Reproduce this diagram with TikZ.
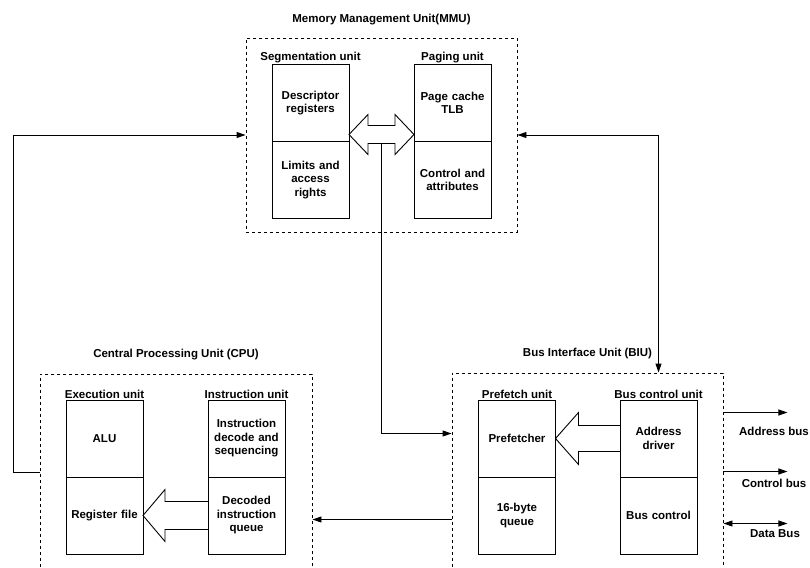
\documentclass[tikz,border=0pt]{standalone}
\usepackage{fontspec}
\setmainfont{Liberation Sans}
\usetikzlibrary{arrows.meta, positioning, calc}

\begin{document}
\begin{tikzpicture}[
    x=1pt, y=-1pt,
    font=\fontsize{11.5}{13.5}\selectfont\bfseries,
    cell/.style={rectangle, draw, line width=0.9pt, minimum width=77pt,
                 minimum height=77pt, text width=70pt, align=center,
                 inner sep=0pt, outer sep=0pt},
    unit/.style={rectangle, draw, dashed, line width=0.9pt},
    title/.style={inner sep=0pt},
    arrow/.style={-{Triangle[length=9pt,width=6pt]}, line width=0.9pt},
    dblarrow/.style={{Triangle[length=9pt,width=6pt]}-{Triangle[length=9pt,width=6pt]}, line width=0.9pt},
    fat/.style={line width=0.9pt, line join=miter}
]
    \path[use as bounding box, clip] (0,0) rectangle (810,567);

    % dashed unit frames
    \node[unit, minimum width=271pt, minimum height=194pt] (mmu) at (381.5,135) {};
    \node[unit, minimum width=272pt, minimum height=196pt] (cpu) at (176,472) {};
    \node[unit, minimum width=271pt, minimum height=197pt] (biu) at (587.5,471.5) {};

    \node[title, above=12pt of mmu] (mmutitle) {Memory Management Unit(MMU)};
    \node[title, above=13pt of cpu] (cputitle) {Central Processing Unit (CPU)};
    \node[title, above=13pt of biu] (biutitle) {Bus Interface Unit (BIU)};

    % MMU
    \node[cell] (desc) at (310.5,103) {Descriptor\\registers};
    \node[cell, below=0pt of desc] (limits) {Limits and\\access\\rights};
    \node[cell] (page) at (452.5,103) {Page cache\\TLB};
    \node[cell, below=0pt of page] (attr) {Control and\\attributes};
    \node[title, above=1pt of desc] (seglbl) {Segmentation unit};
    \node[title, above=1pt of page] (paglbl) {Paging unit};

    % CPU
    \node[cell] (alu) at (104.5,438.5) {ALU};
    \node[cell, below=0pt of alu] (regf) {Register file};
    \node[cell] (idec) at (246.5,438.5) {Instruction\\decode and\\sequencing};
    \node[cell, below=0pt of idec] (decq) {Decoded\\instruction\\queue};
    \node[title, above=1pt of alu] (exelbl) {Execution unit};
    \node[title, above=1pt of idec] (inslbl) {Instruction unit};

    % BIU
    \node[cell] (pref) at (517,438.5) {Prefetcher};
    \node[cell, below=0pt of pref] (queue) {16-byte\\queue};
    \node[cell] (addr) at (658.5,438.5) {Address\\driver};
    \node[cell, below=0pt of addr] (busc) {Bus control};
    \node[title, above=1pt of pref] (prelbl) {Prefetch unit};
    \node[title, above=1pt of addr] (bculbl) {Bus control unit};

    % block arrows
    \coordinate (lt) at ($(desc.south east)+(0,-7)$);
    \coordinate (rt) at ($(page.south west)+(0,-7)$);
    \draw[fat] (lt) -- ++(19,-20) -- ++(0,11) -- ($(rt)+(-19,-9)$) -- ++(0,-11)
        -- (rt) -- ++(-19,20) -- ++(0,-11) -- ($(lt)+(19,9)$) -- ++(0,11) -- cycle;
    \coordinate (mid) at ($(lt)!0.5!(rt)+(0,9)$);

    \draw[fat] ($(decq.west)+(0,-14)$) -- ($(regf.east)+(22,-14)$) -- ++(0,-12)
        -- (regf.east) -- ++(22,26) -- ++(0,-12) -- ($(decq.west)+(0,14)$);
    \draw[fat] ($(addr.west)+(0,-13)$) -- ($(pref.east)+(23,-13)$) -- ++(0,-13)
        -- (pref.east) -- ++(23,26) -- ++(0,-13) -- ($(addr.west)+(0,13)$);

    % connectors
    \draw[arrow] (cpu.west) -- ++(-26,0) |- (mmu.west);
    \draw[dblarrow] (mmu.east) -| (biu.north -| addr);
    \draw[arrow] (mid) |- ($(biu.west)+(0,-38)$);
    \coordinate (back) at ($(biu.west)+(0,48)$);
    \draw[arrow] (back) -- (back -| cpu.east);

    % external buses
    \coordinate (abus) at ($(biu.east)+(64,-59)$);
    \coordinate (cbus) at ($(biu.east)+(64,0)$);
    \coordinate (dbus) at ($(biu.east)+(64,52)$);
    \draw[arrow] (biu.east |- abus) -- (abus);
    \draw[arrow] (biu.east) -- (cbus);
    \draw[dblarrow] (biu.east |- dbus) -- (dbus);
    \node[title] (abuslbl) at (774,431) {Address bus};
    \node[title] (cbuslbl) at (774,483) {Control bus};
    \node[title] (dbuslbl) at (775,534) {Data Bus};
\end{tikzpicture}
\end{document}
